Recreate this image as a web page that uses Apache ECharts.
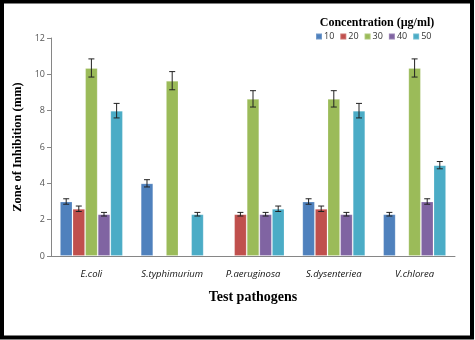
<!DOCTYPE html>
<html>
<head>
<meta charset="utf-8">
<script src="https://cdn.jsdelivr.net/npm/echarts@6/dist/echarts.min.js"></script>
<style>
html, body { margin: 0; padding: 0; background: #fff; }
#chart { width: 475px; height: 340px; }
</style>
</head>
<body>
<div id="chart"></div>
<script>
// pathogens on the x axis
var pathogens = ['E.coli', 'S.typhimurium', 'P.aeruginosa', 'S.dysenteriea', 'V.chlorea'];
var concLabels = ['10', '20', '30', '40', '50'];
var yTicks = [0, 2, 4, 6, 8, 10, 12];

// zone of inhibition (mm), one array per concentration; 0 = no bar
var c10 = [3.0, 4.0, 0, 3.0, 2.3];
var c20 = [2.6, 0, 2.3, 2.6, 0];
var c30 = [10.35, 9.65, 8.65, 8.65, 10.35];
var c40 = [2.3, 0, 2.3, 2.3, 3.0];
var c50 = [8.0, 2.3, 2.6, 8.0, 5.0];

// error (+/-)
var e10 = [0.15, 0.2, 0, 0.15, 0.1];
var e20 = [0.15, 0, 0.1, 0.15, 0];
var e30 = [0.5, 0.5, 0.45, 0.45, 0.5];
var e40 = [0.1, 0, 0.1, 0.1, 0.15];
var e50 = [0.4, 0.1, 0.15, 0.4, 0.2];

var colors = ['#4F81BD', '#C0504D', '#9BBB59', '#8064A2', '#4BACC6'];

var values = [c10, c20, c30, c40, c50];
var errors = [e10, e20, e30, e40, e50];
var gapRatio = 0.22;

var myChart = echarts.init(document.getElementById('chart'));

var series = [];
for (var s = 0; s < values.length; s++) {
    series.push({
        name: concLabels[s],
        type: 'bar',
        barGap: '0%',
        barCategoryGap: '22%',
        itemStyle: { color: colors[s], borderColor: 'rgba(255,255,255,0.2)', borderWidth: 1 },
        data: values[s].map(function (v) { return v ? v : '-'; })
    });
}

// error bars drawn as custom series
var errData = [];
for (var s = 0; s < values.length; s++) {
    for (var i = 0; i < pathogens.length; i++) {
        if (values[s][i]) errData.push([i, values[s][i], errors[s][i], s]);
    }
}
series.push({
    type: 'custom',
    name: 'err',
    z: 10,
    renderItem: function (params, api) {
        var idx = api.value(0), val = api.value(1), err = api.value(2), sIdx = api.value(3);
        var band = api.size([1, 0])[0];
        var bw = band * (1 - gapRatio) / 5;
        var center = api.coord([idx, val]);
        var x = center[0] + (sIdx - 2) * bw;
        var top = api.coord([idx, val + err])[1];
        var bot = api.coord([idx, val - err])[1];
        var st = { stroke: '#222', lineWidth: 1 };
        return {
            type: 'group',
            children: [
                { type: 'line', shape: { x1: x, y1: top, x2: x, y2: bot }, style: st },
                { type: 'line', shape: { x1: x - 3, y1: top, x2: x + 3, y2: top }, style: st },
                { type: 'line', shape: { x1: x - 3, y1: bot, x2: x + 3, y2: bot }, style: st }
            ]
        };
    },
    data: errData
});

var option = {
    animation: false,
    grid: { left: 51, right: 20, top: 38, bottom: 84 },
    title: {
        text: 'Concentration (µg/ml)',
        left: 372,
        top: 12,
        textAlign: 'center',
        textStyle: { fontFamily: 'Liberation Serif', fontWeight: 'bold', fontSize: 12, color: '#000' }
    },
    legend: {
        data: concLabels,
        left: 310,
        top: 27,
        itemWidth: 6,
        itemHeight: 6,
        itemGap: 5,
        icon: 'rect',
        textStyle: { fontFamily: 'Open Sans', fontSize: 9, color: '#333', padding: [0, 0, 0, -3] }
    },
    xAxis: {
        type: 'category',
        data: pathogens,
        axisLine: { lineStyle: { color: '#868686' } },
        axisTick: { show: false },
        axisLabel: { interval: 0, fontFamily: 'Open Sans', fontStyle: 'italic', fontSize: 9.5, color: '#111', margin: 13 },
        name: 'Test pathogens',
        nameLocation: 'middle',
        nameGap: 34,
        nameTextStyle: { fontFamily: 'Liberation Serif', fontWeight: 'bold', fontSize: 14, color: '#000' }
    },
    yAxis: {
        type: 'value',
        min: yTicks[0],
        max: yTicks[yTicks.length - 1],
        interval: 2,
        splitLine: { show: false },
        axisLine: { show: true, lineStyle: { color: '#868686' } },
        axisTick: { show: true, length: 4, lineStyle: { color: '#868686' } },
        axisLabel: { fontFamily: 'Open Sans', fontSize: 9, color: '#555', margin: 6 },
        name: 'Zone of Inhibition (mm)',
        nameLocation: 'middle',
        nameGap: 27,
        nameTextStyle: { fontFamily: 'Liberation Serif', fontWeight: 'bold', fontSize: 12.5, color: '#000' }
    },
    graphic: [{
        type: 'rect',
        shape: { x: 2, y: 1.5, width: 470, height: 336 },
        style: { fill: 'none', stroke: '#000', lineWidth: 4 },
        silent: true
    }],
    series: series
};

myChart.setOption(option);
</script>
</body>
</html>
